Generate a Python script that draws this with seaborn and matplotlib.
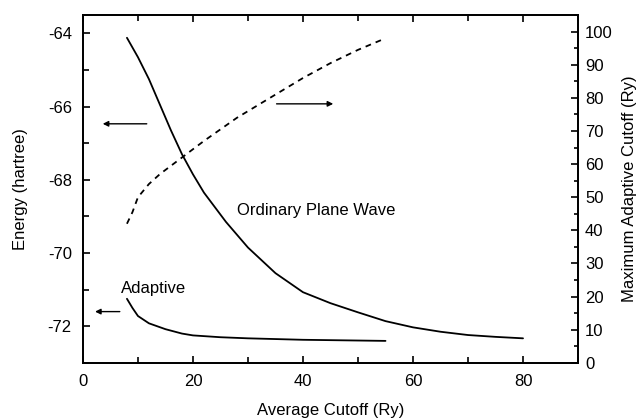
import matplotlib
matplotlib.use("Agg")
import matplotlib.pyplot as plt
import seaborn as sns
import pandas as pd
from matplotlib.ticker import MultipleLocator

sns.set_style("ticks")
plt.rcParams['font.family'] = ['Liberation Sans', 'DejaVu Sans']
plt.rcParams['axes.unicode_minus'] = False
for k in ['text.color', 'axes.labelcolor', 'xtick.color', 'ytick.color', 'axes.edgecolor']:
    plt.rcParams[k] = 'black'

# Ordinary plane wave energy (hartree) vs average cutoff (Ry)
pw_x = [8, 10, 12, 14, 16, 18, 20, 22, 24, 26, 28, 30, 35, 40, 45, 50, 55, 60, 65, 70, 75, 80]
pw_y = [-64.12, -64.65, -65.25, -65.95, -66.65, -67.3, -67.85, -68.35, -68.75, -69.15, -69.5, -69.85,
        -70.55, -71.07, -71.37, -71.62, -71.86, -72.03, -72.15, -72.24, -72.29, -72.33]

# Adaptive energy (hartree)
ad_x = [8, 9, 10, 12, 15, 18, 20, 25, 30, 40, 50, 55]
ad_y = [-71.25, -71.5, -71.72, -71.92, -72.08, -72.2, -72.25, -72.3, -72.33, -72.37, -72.39, -72.4]

# Maximum adaptive cutoff (Ry), right axis
mx_x = [8, 9, 10, 12, 14, 16, 18, 20, 22, 25, 28, 30, 32, 35, 38, 40, 45, 50, 55]
mx_y = [42, 45.5, 50, 54, 57, 59.5, 62, 64.5, 67, 70.5, 74, 76, 78, 81, 84, 86, 90.5, 94.5, 98]

fig = plt.figure(figsize=(6.38, 4.19), dpi=100)
ax = fig.add_axes([0.130, 0.134, 0.776, 0.830])
ax2 = ax.twinx()

lw = 1.3
sns.lineplot(data=pd.DataFrame({'x': pw_x, 'y': pw_y}), x='x', y='y', ax=ax, color='black', lw=lw)
sns.lineplot(data=pd.DataFrame({'x': ad_x, 'y': ad_y}), x='x', y='y', ax=ax, color='black', lw=lw)
sns.lineplot(data=pd.DataFrame({'x': mx_x, 'y': mx_y}), x='x', y='y', ax=ax2, color='black', lw=lw,
             linestyle=(0, (3.2, 2.8)))

ax.set_xlim(0, 90)
ax.set_ylim(-73, -63.5)
ax2.set_ylim(0, 105)

fs = 12
ax.set_xlabel('Average Cutoff (Ry)', fontsize=fs, labelpad=10)
ax.set_ylabel('Energy (hartree)', fontsize=fs, labelpad=14)
ax2.set_ylabel('Maximum Adaptive Cutoff (Ry)', fontsize=fs, labelpad=7)

ax.xaxis.set_major_locator(MultipleLocator(20))
ax.xaxis.set_minor_locator(MultipleLocator(10))
ax.yaxis.set_major_locator(MultipleLocator(2))
ax.yaxis.set_minor_locator(MultipleLocator(1))
ax2.yaxis.set_major_locator(MultipleLocator(10))
ax2.yaxis.set_minor_locator(MultipleLocator(5))

ax.tick_params(axis='both', which='both', direction='in', labelsize=fs, width=1.2, colors='black')
ax.tick_params(axis='x', which='both', top=True, bottom=True, pad=8)
ax.tick_params(axis='y', which='both', left=True, right=False, pad=8)
ax.tick_params(which='major', length=5)
ax.tick_params(which='minor', length=4)
ax2.tick_params(axis='y', which='both', direction='in', labelsize=fs, width=1.2, pad=5, colors='black')
ax2.tick_params(which='major', length=5)
ax2.tick_params(which='minor', length=3)

for a in (ax, ax2):
    for s in a.spines.values():
        s.set_linewidth(1.3)
        s.set_color('black')
        s.set_visible(True)

ax.text(28, -68.85, 'Ordinary Plane Wave', fontsize=fs, va='center', ha='left', color='black')
ax.text(7.0, -70.96, 'Adaptive', fontsize=fs, va='center', ha='left', color='black')

arrow = dict(arrowstyle='-|>', color='black', lw=1.0, mutation_scale=8, shrinkA=0, shrinkB=0)
ax.annotate('', xy=(3.6, -66.47), xytext=(11.6, -66.47), arrowprops=arrow)
ax.annotate('', xy=(2.2, -71.6), xytext=(6.7, -71.6), arrowprops=arrow)
ax2.annotate('', xy=(45.5, 78.2), xytext=(35.2, 78.2), arrowprops=arrow)

fig.savefig('out.png', dpi=100)
